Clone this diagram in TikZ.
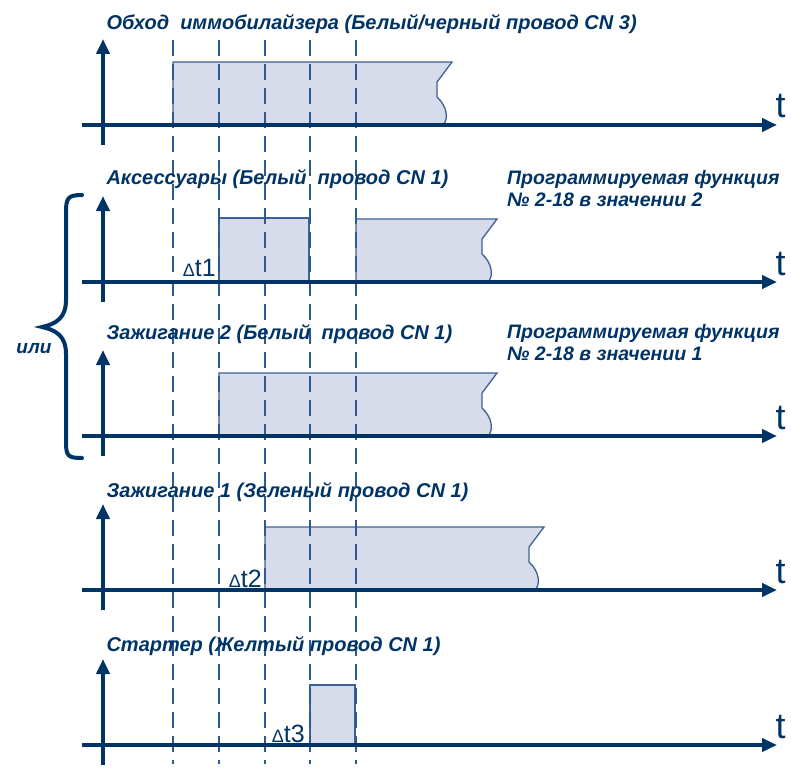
\documentclass[tikz,border=0pt]{standalone}
\usepackage{fontspec}
\setmainfont{Liberation Sans}
\usetikzlibrary{arrows.meta}

\definecolor{navy}{HTML}{003366}
\definecolor{dashblue}{HTML}{2E5B8F}
\definecolor{pulsefill}{HTML}{D6DCE9}
\definecolor{pulseedge}{HTML}{3D6194}

\tikzset{
  axis/.style={navy,line width=4pt,-{Triangle[length=15pt,width=13pt]}},
  marker/.style={dashblue,line width=2pt,dash pattern=on 16pt off 8pt},
  pulse/.style={fill=pulsefill,draw=pulseedge,line width=1.3pt},
  title/.style={navy,anchor=base west,font=\fontsize{20}{24}\selectfont\bfseries\itshape},
  note/.style={navy,anchor=north west,inner sep=0pt,align=left,font=\fontsize{19.5}{22}\selectfont\bfseries\itshape},
  tlabel/.style={navy,anchor=base west,font=\fontsize{36}{36}\selectfont},
  delta/.style={navy,anchor=base east,inner sep=0pt,font=\fontsize{25}{25}\selectfont},
  brace/.style={navy,line width=4pt,line cap=round}
}

% pulse with broken right end: left x, right x, base y
\newcommand{\brkpulse}[3]{%
  \filldraw[pulse] (#1,#3) -- (#1,#3-63) -- (#2,#3-63) -- (#2-15,#3-43)
    -- (#2-15,#3-28) .. controls (#2-5,#3-19) and (#2-3,#3-6) .. (#2-9,#3) -- cycle;}

\begin{document}
\begin{tikzpicture}[x=1pt,y=-1pt]
  \useasboundingbox (0,0) rectangle (791,767);

  % pulses
  \brkpulse{173}{452}{125}
  \filldraw[pulse] (219,282) rectangle (309,218);
  \brkpulse{356}{497}{282}
  \brkpulse{219}{497}{436}
  \brkpulse{265}{544}{590}
  \filldraw[pulse] (310,745) rectangle (355,685);

  % time markers
  \foreach \x/\name in {173/ta,219/tb,265/tc,310/td,356/te}{
    \coordinate (\name top) at (\x,40);
    \coordinate (\name bot) at (\x,764);
    \draw[marker] (\name top) -- (\name bot);
  }

  % axes
  \foreach \b/\name in {125/p1,282/p2,436/p3,590/p4,745/p5}{
    \coordinate (\name s) at (82,\b);
    \coordinate (\name e) at (777,\b);
    \coordinate (\name y) at (103,\b-86);
    \coordinate (\name d) at (103,\b+20);
    \draw[axis] (\name s) -- (\name e);
    \draw[axis] (\name d) -- (\name y);
    \node[tlabel] (\name t) at (772,\b-7) {t};
  }

  % titles
  \node[title] (n1) at (103,30) {Обход\ \ иммобилайзера (Белый/черный провод CN 3)};
  \node[title] (n2) at (103,185) {Аксессуары (Белый\ \ провод CN 1)};
  \node[title] (n3) at (103,339) {Зажигание 2 (Белый\ \ провод CN 1)};
  \node[title] (n4) at (103,497) {Зажигание 1 (Зеленый провод CN 1)};
  \node[title] (n5) at (103,651) {Стартер (Желтый провод CN 1)};
  \node[note] (f2) at (507,170) {Программируемая функция\\№ 2-18 в значении 2};
  \node[note] (f1) at (507,324) {Программируемая функция\\№ 2-18 в значении 1};

  % delays
  \node[delta] (dt1) at (216,276) {{\fontsize{18}{18}\selectfont Δ}t1};
  \node[delta] (dt2) at (262,587) {{\fontsize{18}{18}\selectfont Δ}t2};
  \node[delta] (dt3) at (305,742) {{\fontsize{18}{18}\selectfont Δ}t3};

  % either/or brace
  \coordinate (btop) at (82,195);
  \coordinate (btip) at (42,327);
  \coordinate (bbot) at (82,458);
  \draw[brace] (btop) .. controls (68,195) and (66,198) .. (66,212) -- (66,300)
    .. controls (66,318) and (56,324) .. (btip)
    .. controls (56,330) and (66,336) .. (66,354) -- (66,442)
    .. controls (66,456) and (68,458) .. (bbot);
  \node[navy,font=\fontsize{19}{22}\selectfont\bfseries\itshape] (ili) at (34,349) {или};
\end{tikzpicture}
\end{document}
